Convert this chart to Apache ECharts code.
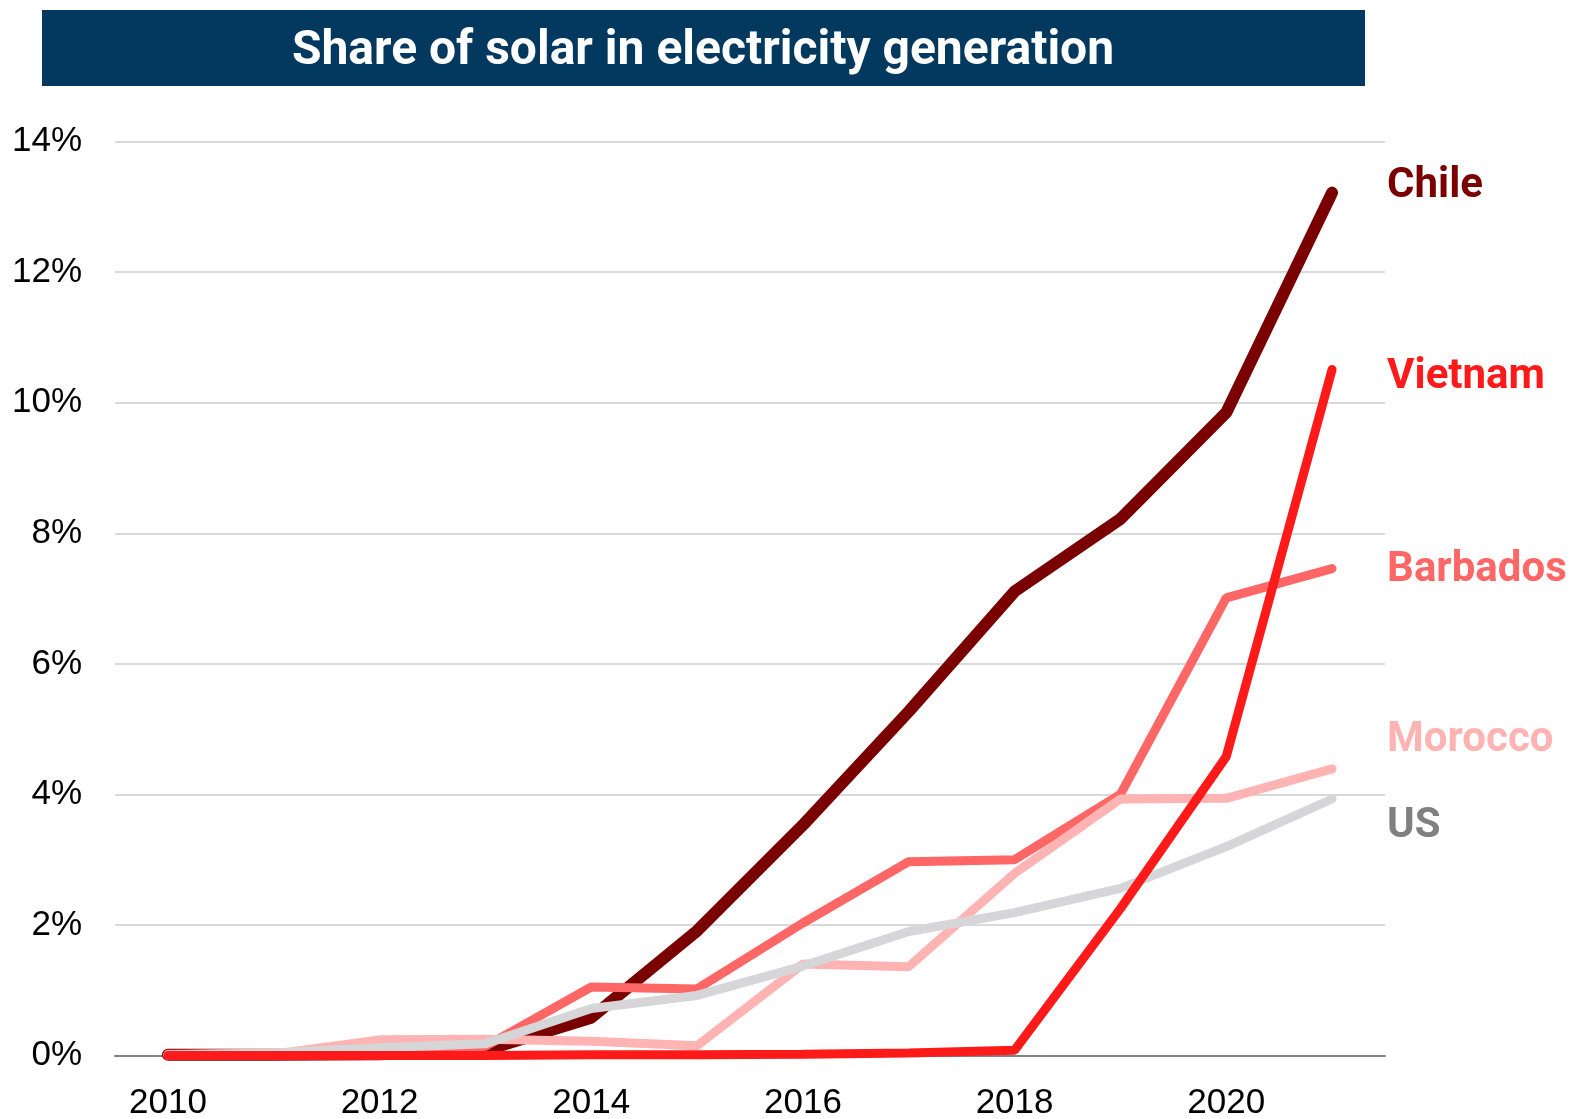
<!DOCTYPE html>
<html>
<head>
<meta charset="utf-8">
<script src="https://cdn.jsdelivr.net/npm/echarts@6/dist/echarts.min.js"></script>
<style>
html,body{margin:0;padding:0;background:#fff;}
#chart{width:1572px;height:1119px;}
</style>
</head>
<body>
<div id="chart"></div>
<script>
var years = ['2010','2011','2012','2013','2014','2015','2016','2017','2018','2019','2020','2021'];
var chile    = [0.01, 0.01, 0.02, 0.08, 0.58, 1.91, 3.53, 5.27, 7.11, 8.22, 9.85, 13.22];
var barbados = [0.02, 0.03, 0.05, 0.14, 1.05, 1.02, 2.03, 2.97, 3.00, 4.00, 7.01, 7.46];
var morocco  = [0.00, 0.02, 0.24, 0.25, 0.22, 0.15, 1.40, 1.36, 2.79, 3.93, 3.94, 4.39];
var us       = [0.01, 0.04, 0.12, 0.18, 0.72, 0.92, 1.37, 1.90, 2.19, 2.56, 3.20, 3.93];
var vietnam  = [0.00, 0.00, 0.00, 0.00, 0.01, 0.01, 0.02, 0.04, 0.08, 2.25, 4.58, 10.51];
var yTicks = [0, 2, 4, 6, 8, 10, 12, 14];
var titleText = 'Share of solar in electricity generation';

function mk(name, data, color, labelColor, width, dy) {
  return {
    name: name, type: 'line', data: data, symbol: 'none', smooth: false,
    lineStyle: { color: color, width: width, cap: 'round', join: 'bevel' },
    itemStyle: { color: color },
    emphasis: { disabled: true },
    endLabel: {
      show: true, formatter: name, color: labelColor,
      fontFamily: 'Roboto', fontWeight: 'bold', fontSize: 42,
      distance: 55, offset: [0, dy]
    },
    animation: false
  };
}

var chart = echarts.init(document.getElementById('chart'), null, { renderer: 'canvas' });
chart.setOption({
  animation: false,
  grid: { left: 115, right: 187, top: 141.7, bottom: 63.5, containLabel: false, outerBoundsMode: 'none' },
  graphic: [
    { type: 'rect', shape: { x: 42, y: 10, width: 1323, height: 76 }, style: { fill: '#03395f' }, z: 10 },
    { type: 'text', x: 703, y: 52, z: 11,
      style: { text: titleText, fill: '#ffffff', font: 'bold 48px Roboto', textAlign: 'center', textVerticalAlign: 'middle' } }
  ],
  xAxis: {
    type: 'category', data: years, boundaryGap: true,
    axisLine: { show: true, lineStyle: { color: '#808080', width: 2 } },
    axisTick: { show: false },
    axisLabel: { interval: 1, color: '#000', fontFamily: 'Liberation Sans', fontSize: 35, margin: 30 },
    splitLine: { show: false }
  },
  yAxis: {
    type: 'value', min: yTicks[0], max: yTicks[yTicks.length - 1], interval: 2,
    axisLine: { show: false }, axisTick: { show: false },
    axisLabel: { formatter: '{value}%', color: '#000', fontFamily: 'Liberation Sans', fontSize: 35, margin: 33, padding: [8, 0, 0, 0] },
    splitLine: { show: true, lineStyle: { color: '#d9d9d9', width: 2 } }
  },
  series: [
    mk('Chile', chile, '#7a0000', '#7a0000', 12, -6),
    mk('Barbados', barbados, '#ff6666', '#ff6666', 9, 2),
    mk('Morocco', morocco, '#ffb3b3', '#ffb3b3', 9, -28),
    mk('US', us, '#d6d6d8', '#808080', 9, 28),
    mk('Vietnam', vietnam, '#ff1a1a', '#ff1a1a', 9, 8)
  ]
});
</script>
</body>
</html>
